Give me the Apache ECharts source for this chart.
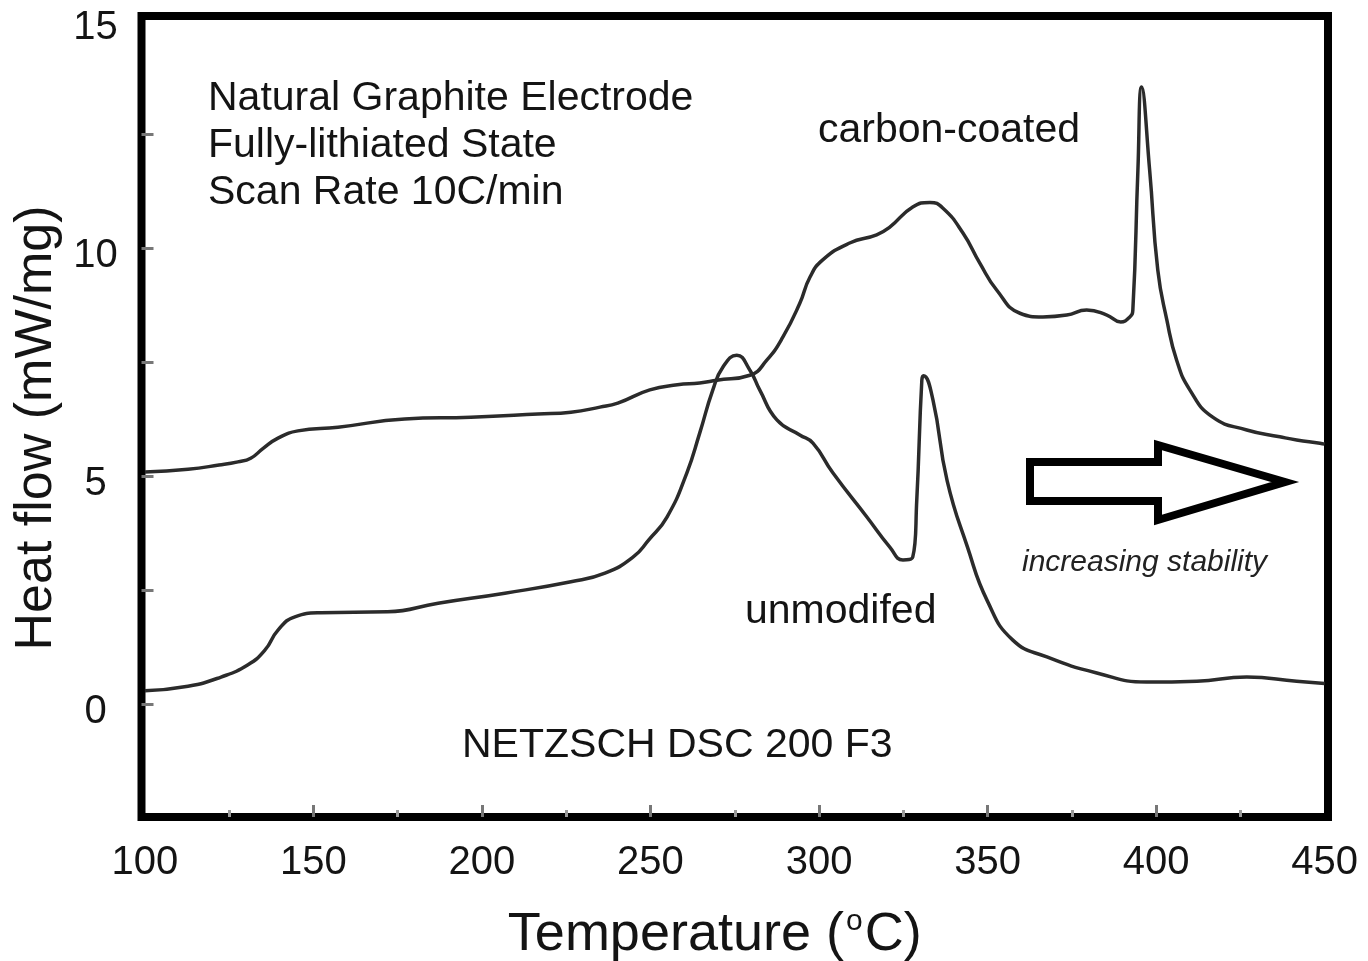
<!DOCTYPE html>
<html>
<head>
<meta charset="utf-8">
<script src="https://cdn.jsdelivr.net/npm/echarts@6/dist/echarts.min.js"></script>
<style>
html,body{margin:0;padding:0;background:#fff;}
#chart{width:1368px;height:961px;}
</style>
</head>
<body>
<div id="chart"></div>
<script>
// ---- data ----
const coatedTemp = [100,112.8,122,127.6,131.4,135,139.5,145.4,157.3,177.1,196.7,216.6,226.4,235,240.3,249.8,258,264.6,269.7,279.5,284.5,289.3,294.3,297.3,301.1,309.1,317.1,321,327.8,332.9,336.7,342.7,347.7,352.7,359.6,366.4,373.5,379.4,385.4,389.5,392.2,393.1,394.6,395.7,398.1,400.5,403.2,406.1,410,416.8,426.9,436.7,441.7,448.6,450];
const coatedHeat = [5.09,5.15,5.24,5.31,5.39,5.6,5.83,5.99,6.07,6.25,6.29,6.36,6.40,6.51,6.6,6.89,7.0,7.04,7.1,7.21,7.54,8.05,8.79,9.36,9.74,10.11,10.29,10.46,10.9,11.0,10.88,10.33,9.67,9.08,8.57,8.49,8.53,8.64,8.53,8.38,8.49,8.64,11.7,13.53,11.7,9.52,8.42,7.54,6.89,6.29,6.01,5.86,5.79,5.72,5.7];

const unmodTemp = [100,112.8,122.6,130.6,135.6,139.5,144.5,152.2,172,187,206.8,226.4,236.5,244.8,249.5,254.9,260.8,264.6,268.5,271.5,275.6,279.5,282.4,287.5,294.3,298.2,304.1,314.2,321,324.9,327.8,329,330.5,331,333.8,338,344,350,357.5,367.6,382.4,397.2,412.1,426.9,441.7,450];
const unmodHeat = [0.29,0.39,0.59,0.86,1.18,1.62,1.91,2.0,2.02,2.21,2.43,2.68,2.87,3.22,3.6,4.1,5.07,5.94,6.89,7.39,7.65,7.32,6.89,6.23,5.9,5.72,5.07,4.1,3.44,3.16,3.22,4.47,7.1,7.2,6.67,4.9,3.45,2.25,1.40,1.03,0.68,0.48,0.5,0.59,0.5,0.45];

const xTickLabels = [100,150,200,250,300,350,400,450];
const xMajorTicks = [150,200,250,300,350,400];
const xMinorTicks = [125,175,225,275,325,375,425];
const yTickLabels = [0,5,10,15];
const yTicks = [0,2.5,5,7.5,10,12.5];

const pairs = (xs, ys) => xs.map((x, i) => [x, ys[i]]);

const FONT = "'Liberation Sans', Arial, sans-serif";
const INK = '#141414';
const CURVE = '#2b2b2b';

const chart = echarts.init(document.getElementById('chart'), null, {renderer: 'canvas'});
chart.setOption({
  backgroundColor: '#fff',
  animation: false,
  grid: {
    left: 141.5, right: 40, top: 16, bottom: 144,
    show: true, borderColor: '#000', borderWidth: 8, backgroundColor: 'transparent',
    containLabel: false, outerBoundsMode: 'none'
  },
  xAxis: [{
    type: 'value', min: 99, max: 451, position: 'bottom',
    axisLine: {show: false, onZero: false},
    splitLine: {show: false},
    axisTick: {show: true, inside: true, length: 12, customValues: xMajorTicks, lineStyle: {color: '#777', width: 3}},
    axisLabel: {customValues: xTickLabels, fontSize: 40, fontFamily: FONT, color: INK, margin: 26},
    name: 'Temperature ({sup|o}C)',
    nameLocation: 'middle', nameGap: 90,
    nameTextStyle: {
      fontSize: 54, fontFamily: FONT, color: INK, padding: [0, 40, 0, 0],
      rich: {sup: {fontSize: 30, fontFamily: FONT, color: INK, verticalAlign: 'top', padding: [0, 2, 26, 2]}}
    }
  }, {
    type: 'value', min: 99, max: 451, position: 'bottom',
    axisLine: {show: false, onZero: false}, splitLine: {show: false}, axisLabel: {show: false},
    axisTick: {show: true, inside: true, length: 7, customValues: xMinorTicks, lineStyle: {color: '#999', width: 3}}
  }],
  yAxis: {
    type: 'value', min: -2.48, max: 15.09,
    axisLine: {show: false, onZero: false},
    splitLine: {show: false},
    axisTick: {show: true, inside: true, length: 12, customValues: yTicks, lineStyle: {color: '#777', width: 3}},
    axisLabel: {customValues: yTickLabels, fontSize: 40, fontFamily: FONT, color: INK, margin: 46, align: 'center', verticalAlign: 'top', lineHeight: 16},
    name: 'Heat flow (mW/mg)',
    nameLocation: 'middle', nameRotate: 90, nameGap: 72,
    nameTextStyle: {fontSize: 52, fontFamily: FONT, color: INK, padding: [0, 23, 0, 0]}
  },
  series: [{
    name: 'carbon-coated', type: 'line', xAxisIndex: 0,
    data: pairs(coatedTemp, coatedHeat),
    showSymbol: false, smooth: 0.5,
    lineStyle: {color: CURVE, width: 3.5}
  }, {
    name: 'unmodifed', type: 'line', xAxisIndex: 0,
    data: pairs(unmodTemp, unmodHeat),
    showSymbol: false, smooth: 0.5,
    lineStyle: {color: CURVE, width: 3.5}
  }],
  graphic: [
    {type: 'text', left: 208, top: 75, style: {text: 'Natural Graphite Electrode\nFully-lithiated State\nScan Rate 10C/min', font: '41px ' + FONT, fill: INK, lineHeight: 47}},
    {type: 'text', left: 818, top: 110, style: {text: 'carbon-coated', font: '41px ' + FONT, fill: INK}},
    {type: 'text', left: 745, top: 591, style: {text: 'unmodifed', font: '41px ' + FONT, fill: INK}},
    {type: 'text', left: 462, top: 725, style: {text: 'NETZSCH DSC 200 F3', font: '41px ' + FONT, fill: INK}},
    {type: 'text', left: 1022, top: 548, style: {text: 'increasing stability', font: 'italic 30px ' + FONT, fill: '#222'}},
    {type: 'polygon', shape: {points: [[1030,462],[1158,462],[1158,445],[1285,482],[1158,520],[1158,501],[1030,501]]},
     style: {fill: '#fff', stroke: '#000', lineWidth: 8, lineJoin: 'miter'}}
  ]
});
</script>
</body>
</html>
